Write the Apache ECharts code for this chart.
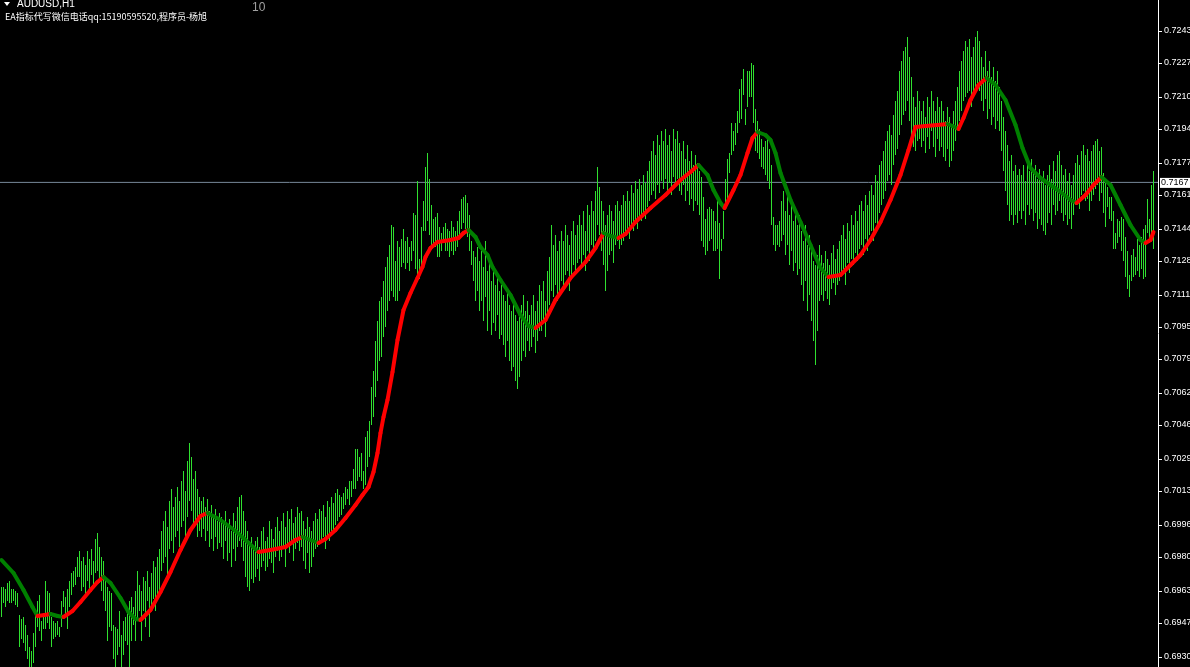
<!DOCTYPE html>
<html><head><meta charset="utf-8">
<script src="https://cdn.jsdelivr.net/npm/echarts@6/dist/echarts.min.js"></script>
<style>html,body{margin:0;padding:0;background:#000;}#c{width:1190px;height:667px;}</style>
</head><body><div id="c"></div>
<script>
const symbolTitle = 'AUDUSD,H1';
const noteText = 'EA指标代写微信电话qq:15190595520,程序员-杨旭';
const counterText = '10';
const tickLabels = ['0.7243','0.7227','0.7210','0.7194','0.7177','0.7161','0.7144','0.7128','0.7111','0.7095',
  '0.7079','0.7062','0.7046','0.7029','0.7013','0.6996','0.6980','0.6963','0.6947','0.6930'];
const bidPrice = 0.71673;
const bidLabel = '0.7167';

const highs = [
0.6965,0.6965,0.6964,0.6967,0.6968,0.6964,0.6964,0.6963,0.6962,0.6951,
0.6949,0.6950,0.6946,0.6941,0.6935,0.6933,0.6942,0.6952,0.6958,0.6961,
0.6948,0.6952,0.6968,0.6963,0.6962,0.6950,0.6948,0.6947,0.6948,0.6945,
0.6958,0.6963,0.6960,0.6964,0.6968,0.6972,0.6973,0.6975,0.6980,0.6983,
0.6978,0.6980,0.6976,0.6983,0.6979,0.6984,0.6978,0.6989,0.6992,0.6985,
0.6980,0.6978,0.6970,0.6965,0.6963,0.6962,0.6946,0.6945,0.6944,0.6953,
0.6941,0.6948,0.6950,0.6954,0.6958,0.6960,0.6955,0.6963,0.6973,0.6966,
0.6963,0.6970,0.6968,0.6973,0.6965,0.6972,0.6978,0.6975,0.6980,0.6984,
0.6993,0.6998,0.7003,0.6995,0.7008,0.7014,0.7005,0.7010,0.7015,0.7008,
0.7018,0.7023,0.7013,0.7028,0.7037,0.7030,0.7019,0.7023,0.7014,0.7010,
0.7008,0.7010,0.7005,0.7009,0.7003,0.7006,0.7000,0.7004,0.6998,0.7002,
0.7000,0.6997,0.7003,0.6995,0.6999,0.6993,0.7002,0.6998,0.7005,0.7010,
0.7011,0.7003,0.6998,0.6993,0.6988,0.6990,0.6985,0.6988,0.6990,0.6985,
0.6993,0.6995,0.6988,0.6990,0.6998,0.6994,0.6989,0.6995,0.7000,0.6993,
0.6998,0.7002,0.6995,0.7003,0.6999,0.7004,0.6997,0.7000,0.7005,0.7002,
0.7003,0.6998,0.6994,0.7000,0.6995,0.6993,0.6998,0.7002,0.6999,0.7004,
0.7003,0.7006,0.7000,0.7008,0.7005,0.7010,0.7007,0.7012,0.7014,0.7011,
0.7010,0.7012,0.7015,0.7014,0.7018,0.7018,0.7024,0.7034,0.7034,0.7030,
0.7032,0.7023,0.7040,0.7043,0.7048,0.7065,0.7073,0.7088,0.7098,0.7108,
0.7110,0.7118,0.7125,0.7130,0.7136,0.7146,0.7145,0.7128,0.7138,0.7135,
0.7139,0.7144,0.7138,0.7140,0.7135,0.7138,0.7152,0.7151,0.7168,0.7129,
0.7145,0.7158,0.7175,0.7182,0.7169,0.7156,0.7149,0.7150,0.7152,0.7145,
0.7142,0.7145,0.7147,0.7144,0.7143,0.7148,0.7145,0.7143,0.7148,0.7153,
0.7159,0.7160,0.7161,0.7157,0.7151,0.7138,0.7133,0.7130,0.7135,0.7128,
0.7133,0.7125,0.7138,0.7123,0.7129,0.7118,0.7124,0.7116,0.7121,0.7113,
0.7116,0.7111,0.7108,0.7113,0.7106,0.7103,0.7108,0.7101,0.7098,0.7103,
0.7106,0.7111,0.7103,0.7108,0.7101,0.7106,0.7111,0.7103,0.7108,0.7116,
0.7113,0.7118,0.7108,0.7123,0.7130,0.7146,0.7136,0.7141,0.7133,0.7138,
0.7143,0.7138,0.7146,0.7141,0.7136,0.7143,0.7148,0.7141,0.7146,0.7151,
0.7146,0.7153,0.7143,0.7156,0.7151,0.7158,0.7153,0.7163,0.7175,0.7165,
0.7158,0.7153,0.7146,0.7151,0.7156,0.7153,0.7148,0.7156,0.7158,0.7153,
0.7156,0.7161,0.7158,0.7163,0.7158,0.7166,0.7162,0.7168,0.7164,0.7169,
0.7166,0.7171,0.7167,0.7173,0.7178,0.7183,0.7188,0.7181,0.7191,0.7186,
0.7193,0.7188,0.7194,0.7186,0.7191,0.7183,0.7194,0.7189,0.7193,0.7187,
0.7183,0.7188,0.7179,0.7186,0.7178,0.7183,0.7176,0.7181,0.7177,0.7173,
0.7170,0.7160,0.7149,0.7154,0.7155,0.7154,0.7153,0.7148,0.7158,0.7147,
0.7139,0.7153,0.7169,0.7179,0.7182,0.7197,0.7193,0.7197,0.7203,0.7214,
0.7219,0.7224,0.7204,0.7223,0.7223,0.7227,0.7226,0.7204,0.7198,0.7194,
0.7189,0.7185,0.7188,0.7189,0.7184,0.7176,0.7150,0.7146,0.7146,0.7148,
0.7158,0.7163,0.7153,0.7161,0.7151,0.7156,0.7148,0.7153,0.7146,0.7151,
0.7143,0.7138,0.7146,0.7136,0.7141,0.7133,0.7128,0.7126,0.7131,0.7136,
0.7131,0.7127,0.7133,0.7129,0.7126,0.7132,0.7136,0.7129,0.7134,0.7138,
0.7141,0.7146,0.7139,0.7147,0.7143,0.7151,0.7146,0.7153,0.7148,0.7156,
0.7158,0.7153,0.7161,0.7156,0.7163,0.7166,0.7161,0.7171,0.7168,0.7176,
0.7178,0.7183,0.7188,0.7193,0.7196,0.7191,0.7201,0.7208,0.7213,0.7223,
0.7228,0.7233,0.7235,0.7240,0.7230,0.7220,0.7210,0.7205,0.7213,0.7208,
0.7203,0.7208,0.7200,0.7210,0.7205,0.7213,0.7208,0.7203,0.7210,0.7205,
0.7208,0.7203,0.7198,0.7205,0.7200,0.7195,0.7203,0.7208,0.7215,0.7223,
0.7228,0.7233,0.7238,0.7235,0.7239,0.7230,0.7235,0.7240,0.7243,0.7238,
0.7230,0.7225,0.7233,0.7223,0.7228,0.7220,0.7225,0.7218,0.7223,0.7215,
0.7208,0.7200,0.7193,0.7186,0.7178,0.7181,0.7173,0.7176,0.7171,0.7174,
0.7171,0.7176,0.7168,0.7178,0.7173,0.7179,0.7172,0.7176,0.7169,0.7174,
0.7168,0.7173,0.7166,0.7171,0.7176,0.7169,0.7178,0.7173,0.7181,0.7183,
0.7176,0.7171,0.7174,0.7168,0.7172,0.7166,0.7171,0.7177,0.7181,0.7176,
0.7183,0.7186,0.7181,0.7184,0.7178,0.7183,0.7186,0.7188,0.7189,0.7183,
0.7185,0.7172,0.7168,0.7165,0.7160,0.7160,0.7153,0.7142,0.7149,0.7148,
0.7150,0.7149,0.7140,0.7133,0.7121,0.7131,0.7134,0.7130,0.7139,0.7136,
0.7140,0.7144,0.7146,0.7159,0.7149,0.7166,0.7173];

const lows = [
0.6950,0.6957,0.6955,0.6958,0.6957,0.6957,0.6958,0.6956,0.6955,0.6935,
0.6939,0.6937,0.6933,0.6929,0.6925,0.6925,0.6927,0.6935,0.6945,0.6943,
0.6938,0.6944,0.6944,0.6947,0.6944,0.6935,0.6939,0.6940,0.6941,0.6940,
0.6945,0.6955,0.6950,0.6944,0.6955,0.6961,0.6965,0.6966,0.6970,0.6970,
0.6963,0.6965,0.6960,0.6968,0.6962,0.6971,0.6964,0.6972,0.6973,0.6967,
0.6963,0.6958,0.6953,0.6938,0.6945,0.6943,0.6929,0.6925,0.6931,0.6935,
0.6925,0.6931,0.6938,0.6936,0.6925,0.6938,0.6946,0.6938,0.6948,0.6953,
0.6938,0.6953,0.6945,0.6958,0.6940,0.6955,0.6959,0.6953,0.6960,0.6963,
0.6973,0.6977,0.6980,0.6970,0.6984,0.6988,0.6982,0.6990,0.6993,0.6985,
0.6995,0.6998,0.6988,0.7000,0.7008,0.7003,0.6995,0.6998,0.6990,0.6993,
0.6990,0.6994,0.6988,0.6993,0.6985,0.6989,0.6983,0.6990,0.6984,0.6987,
0.6985,0.6979,0.6988,0.6978,0.6982,0.6975,0.6984,0.6978,0.6985,0.6988,
0.6985,0.6978,0.6970,0.6965,0.6963,0.6969,0.6967,0.6970,0.6974,0.6968,
0.6975,0.6978,0.6973,0.6975,0.6979,0.6977,0.6972,0.6980,0.6983,0.6978,
0.6980,0.6984,0.6975,0.6985,0.6982,0.6988,0.6978,0.6984,0.6987,0.6983,
0.6985,0.6978,0.6974,0.6982,0.6972,0.6975,0.6980,0.6984,0.6985,0.6988,
0.6988,0.6990,0.6984,0.6991,0.6988,0.6993,0.6993,0.6996,0.6998,0.7000,
0.7001,0.7004,0.7006,0.7009,0.7006,0.7010,0.7014,0.7014,0.7018,0.7020,
0.7018,0.7014,0.7016,0.7025,0.7030,0.7046,0.7050,0.7060,0.7068,0.7078,
0.7080,0.7090,0.7095,0.7103,0.7108,0.7113,0.7110,0.7108,0.7108,0.7113,
0.7125,0.7127,0.7124,0.7127,0.7123,0.7128,0.7133,0.7124,0.7119,0.7119,
0.7126,0.7143,0.7143,0.7148,0.7141,0.7136,0.7137,0.7135,0.7130,0.7130,
0.7133,0.7138,0.7133,0.7133,0.7130,0.7133,0.7131,0.7133,0.7135,0.7140,
0.7144,0.7147,0.7144,0.7140,0.7133,0.7126,0.7118,0.7108,0.7113,0.7103,
0.7108,0.7098,0.7110,0.7093,0.7103,0.7091,0.7097,0.7093,0.7101,0.7089,
0.7091,0.7086,0.7080,0.7088,0.7078,0.7073,0.7075,0.7068,0.7064,0.7070,
0.7078,0.7083,0.7080,0.7088,0.7083,0.7085,0.7090,0.7082,0.7088,0.7093,
0.7093,0.7098,0.7090,0.7101,0.7106,0.7113,0.7110,0.7116,0.7108,0.7113,
0.7118,0.7116,0.7121,0.7123,0.7113,0.7121,0.7126,0.7121,0.7127,0.7129,
0.7126,0.7131,0.7123,0.7133,0.7128,0.7136,0.7133,0.7138,0.7146,0.7141,
0.7133,0.7126,0.7113,0.7123,0.7131,0.7133,0.7127,0.7136,0.7138,0.7134,
0.7136,0.7138,0.7141,0.7143,0.7139,0.7146,0.7143,0.7147,0.7144,0.7150,
0.7148,0.7152,0.7149,0.7155,0.7158,0.7161,0.7163,0.7159,0.7166,0.7162,
0.7168,0.7164,0.7169,0.7163,0.7167,0.7161,0.7170,0.7165,0.7169,0.7163,
0.7161,0.7166,0.7158,0.7163,0.7156,0.7159,0.7153,0.7158,0.7156,0.7151,
0.7138,0.7135,0.7131,0.7133,0.7138,0.7139,0.7133,0.7133,0.7134,0.7119,
0.7133,0.7139,0.7154,0.7159,0.7172,0.7181,0.7183,0.7186,0.7192,0.7197,
0.7199,0.7211,0.7196,0.7205,0.7210,0.7210,0.7197,0.7183,0.7182,0.7179,
0.7175,0.7174,0.7171,0.7168,0.7164,0.7146,0.7136,0.7133,0.7136,0.7135,
0.7138,0.7141,0.7131,0.7136,0.7126,0.7133,0.7123,0.7127,0.7121,0.7124,
0.7116,0.7108,0.7118,0.7103,0.7111,0.7098,0.7088,0.7076,0.7093,0.7108,
0.7111,0.7108,0.7113,0.7109,0.7106,0.7114,0.7117,0.7111,0.7116,0.7118,
0.7121,0.7124,0.7116,0.7127,0.7122,0.7129,0.7126,0.7132,0.7128,0.7134,
0.7136,0.7131,0.7139,0.7133,0.7141,0.7143,0.7138,0.7147,0.7146,0.7152,
0.7156,0.7159,0.7163,0.7168,0.7171,0.7166,0.7176,0.7181,0.7184,0.7191,
0.7196,0.7201,0.7203,0.7208,0.7198,0.7188,0.7185,0.7183,0.7188,0.7189,
0.7185,0.7188,0.7182,0.7190,0.7184,0.7193,0.7185,0.7180,0.7189,0.7183,
0.7185,0.7180,0.7178,0.7184,0.7175,0.7178,0.7183,0.7188,0.7194,0.7198,
0.7203,0.7208,0.7210,0.7212,0.7213,0.7205,0.7210,0.7214,0.7217,0.7213,
0.7208,0.7203,0.7209,0.7199,0.7204,0.7196,0.7200,0.7194,0.7198,0.7193,
0.7183,0.7173,0.7163,0.7156,0.7148,0.7151,0.7146,0.7151,0.7147,0.7153,
0.7149,0.7153,0.7146,0.7156,0.7151,0.7154,0.7148,0.7152,0.7144,0.7149,
0.7146,0.7143,0.7141,0.7147,0.7152,0.7146,0.7156,0.7151,0.7153,0.7158,
0.7152,0.7148,0.7151,0.7146,0.7149,0.7144,0.7151,0.7156,0.7158,0.7154,
0.7161,0.7163,0.7158,0.7159,0.7153,0.7158,0.7161,0.7164,0.7166,0.7158,
0.7162,0.7152,0.7145,0.7155,0.7149,0.7148,0.7134,0.7134,0.7137,0.7140,
0.7133,0.7128,0.7120,0.7114,0.7110,0.7118,0.7120,0.7121,0.7123,0.7120,
0.7124,0.7119,0.7120,0.7142,0.7137,0.7138,0.7134];

const maIndex = [0,6,11,15.5,18,21.5,24.5,28,31,35.5,39.5,44.5,48,51,54.5,59.5,63.5,67,69.5,74.5,
79.5,84.5,89.5,94.5,99.5,103,109.5,117,122,128.5,134.5,142,147,150.5,154.5,158.5,162,167,172,177,
180.5,183.5,186,188,189.5,191,193,195.5,198,201,204.5,208,210.5,212,214.5,218,224.5,228.5,231,233.5,
237,239.5,243,245.5,249.5,254.5,259.5,263.5,267,272,277,284.5,292,297,301,304.5,308.5,312,317,324.5,
332,339.5,344.5,348.5,353,356,359.5,361.5,366,369.5,373,375.5,378,382,384.5,387,389.5,394.5,399.5,404.5,
409.5,413.5,419.5,424.5,429.5,434.5,439.5,444.5,449.5,453.5,457,462,468,473,475.5,478.5,481,484.5,488.5,492.5,
497,502,507,510.5,514.5,519.5,524.5,529.5,534.5,537.5,542,546,550,554.5,559.5,564.5,569.5,572,574.5,576];
const maValue = [0.69785,0.6972,0.69635,0.6955,0.69505,0.6951,0.69515,0.69505,0.6950,0.6953,0.69575,0.69635,0.69675,0.6970,0.6967,0.69595,0.69525,0.6949,0.69485,0.69535,
0.69625,0.69725,0.69835,0.69935,0.70005,0.7002,0.69985,0.6993,0.69885,0.69825,0.69835,0.6985,0.69885,0.6990,0.69885,0.6987,0.6989,0.69935,0.69995,0.7006,
0.7011,0.7015,0.70225,0.7032,0.7042,0.7050,0.70585,0.70725,0.70885,0.71035,0.7112,0.71195,0.7125,0.7130,0.71345,0.71375,0.71385,0.71395,0.7142,0.71435,
0.7140,0.7135,0.7131,0.7125,0.71185,0.7111,0.7101,0.70955,0.70945,0.70985,0.71085,0.71195,0.71275,0.71345,0.7142,0.71405,0.71395,0.71415,0.71475,0.71545,
0.7161,0.71685,0.71725,0.7176,0.7171,0.71635,0.7157,0.71545,0.71635,0.7171,0.7182,0.71895,0.71925,0.7191,0.71885,0.7182,0.7172,0.71585,0.71475,0.7136,
0.71245,0.7120,0.7121,0.7126,0.7131,0.71385,0.71475,0.71585,0.7171,0.71835,0.7195,0.71955,0.7196,0.71965,0.71955,0.7194,0.71995,0.72085,0.7216,0.72195,
0.7216,0.72085,0.7196,0.71845,0.71745,0.71695,0.7166,0.71625,0.71585,0.7157,0.7161,0.7166,0.7170,0.7166,0.7156,0.7146,0.71385,0.7137,0.71385,0.71425];

const tickValues = tickLabels.map(Number);
const barData = highs.map((h, i) => [i, h, lows[i]]);
const maSegs = [];
for (let k = 0; k < maIndex.length - 1; k++) {
  maSegs.push([maIndex[k], maValue[k], maIndex[k + 1], maValue[k + 1]]);
}

const chart = echarts.init(document.getElementById('c'), null, {renderer: 'canvas'});
chart.setOption({
  backgroundColor: '#000',
  animation: false,
  grid: {left: 0, right: 32, top: 0, bottom: 0, containLabel: false, outerBoundsMode: 'none'},
  xAxis: {type: 'value', min: -0.75, max: 578.25, show: false},
  yAxis: {
    type: 'value', position: 'right', min: 0.6925, max: 0.72585,
    splitLine: {show: false},
    axisLine: {show: true, onZero: false, lineStyle: {color: '#ffffff', width: 1}},
    axisTick: {show: true, length: 4, inside: false, lineStyle: {color: '#ffffff'}, customValues: tickValues},
    axisLabel: {show: true, customValues: tickValues, formatter: v => v.toFixed(4),
      color: '#ffffff', fontSize: 9, fontFamily: 'Liberation Sans', margin: 6}
  },
  series: [
    {
      type: 'custom', z: 2, silent: true, clip: false,
      encode: {x: 0, y: 0},
      data: [[bidPrice]],
      renderItem: (params, api) => {
        const cs = params.coordSys;
        const y = api.coord([0, api.value(0)])[1];
        return {type: 'group', children: [
          {type: 'line', shape: {x1: cs.x, y1: y, x2: cs.x + cs.width, y2: y},
            style: {stroke: '#778899', lineWidth: 1}},
          {type: 'rect', shape: {x: cs.x + cs.width + 2, y: y - 4.5, width: 32, height: 10},
            style: {fill: '#ffffff'}},
          {type: 'text', x: cs.x + cs.width + 3, y: y + 0.5,
            style: {text: bidLabel, fill: '#000000', font: '9px "Liberation Sans"', verticalAlign: 'middle', align: 'left'}}
        ]};
      }
    },
    {
      type: 'custom', z: 3, silent: true,
      encode: {x: 0, y: [1, 2]},
      data: barData,
      renderItem: (params, api) => {
        const a = api.coord([api.value(0), api.value(1)]);
        const b = api.coord([api.value(0), api.value(2)]);
        return {type: 'line', shape: {x1: a[0], y1: a[1], x2: b[0], y2: b[1]},
          style: {stroke: '#2fe02f', lineWidth: 1}};
      }
    },
    {
      type: 'custom', z: 4, silent: true,
      encode: {x: [0, 2], y: [1, 3]},
      data: maSegs,
      renderItem: (params, api) => {
        const p1 = api.coord([api.value(0), api.value(1)]);
        const p2 = api.coord([api.value(2), api.value(3)]);
        const up = api.value(3) >= api.value(1);
        return {type: 'line', shape: {x1: p1[0], y1: p1[1], x2: p2[0], y2: p2[1]},
          style: {stroke: up ? '#ff0000' : '#008000', lineWidth: 4, lineCap: 'round'}};
      }
    }
  ],
  graphic: [
    {type: 'polygon', shape: {points: [[4, 2], [10, 2], [7, 6]]}, style: {fill: '#ffffff'}},
    {type: 'text', x: 17, y: -1, style: {text: symbolTitle, fill: '#ffffff', font: '10px "Liberation Sans"', verticalAlign: 'top'}},
    {type: 'text', x: 5, y: 12, style: {text: noteText, fill: '#ffffff', font: '9px "Noto Sans CJK SC"', verticalAlign: 'top'}},
    {type: 'text', x: 252, y: 2, style: {text: counterText, fill: '#a0a0a0', font: '12px "Liberation Sans"', verticalAlign: 'top'}}
  ]
});
</script>
</body></html>
